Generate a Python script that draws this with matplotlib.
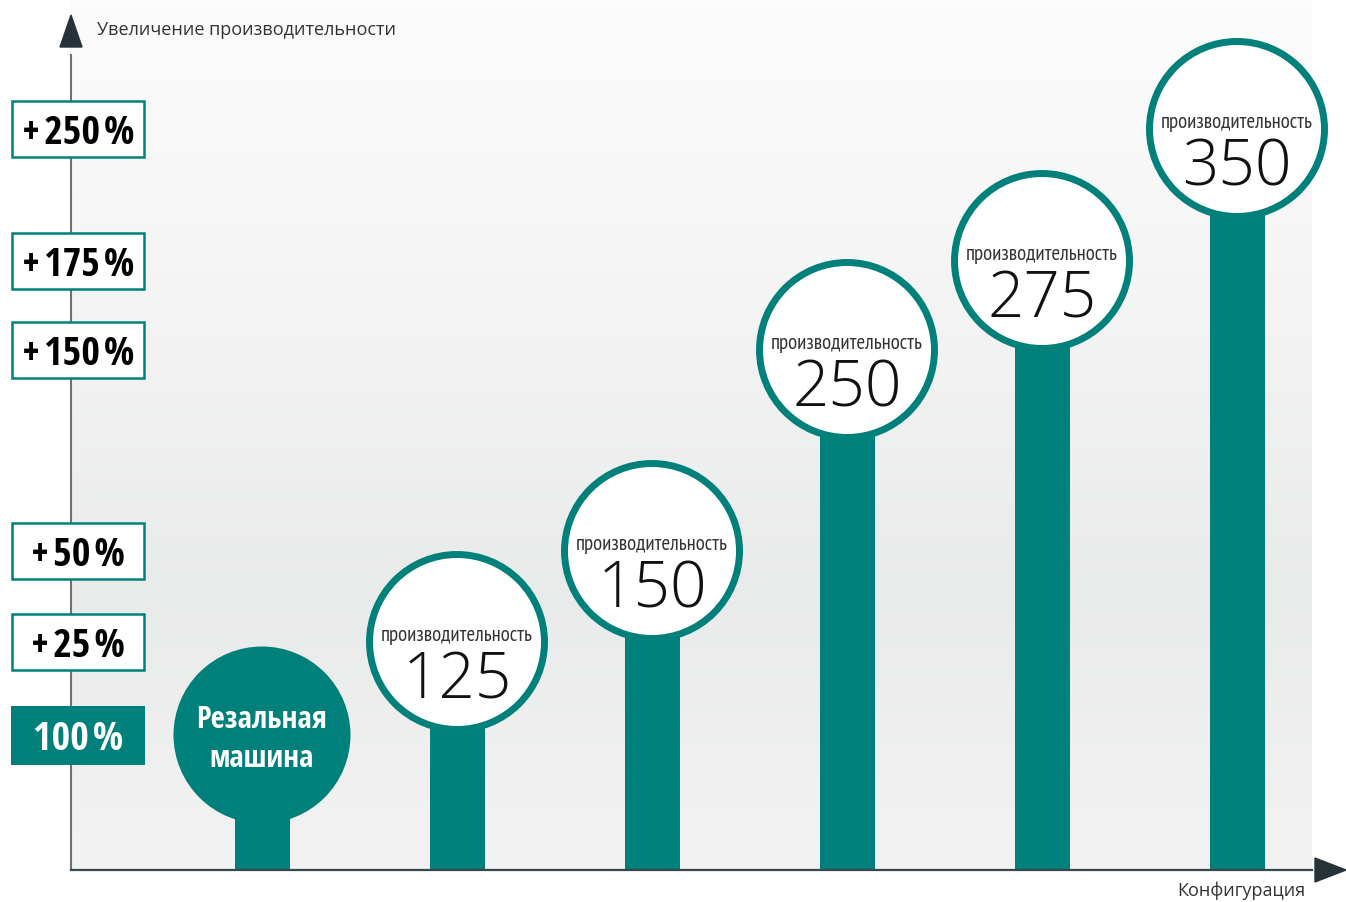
import matplotlib.pyplot as plt
import numpy as np
from matplotlib.patches import Circle, Rectangle, Polygon
from matplotlib.transforms import ScaledTranslation, blended_transform_factory
from matplotlib.colors import LinearSegmentedColormap

# data
configs = ['Резальная машина', '125', '150', '250', '275', '350']
values = [100, 125, 150, 250, 275, 350]
tick_labels = ['100\u200a%', '+\u200a25\u200a%', '+\u200a50\u200a%',
               '+\u200a150\u200a%', '+\u200a175\u200a%', '+\u200a250\u200a%']
circle_caption = 'производительность'
base_label = 'Резальная\nмашина'
y_title = 'Увеличение производительности'
x_title = 'Конфигурация'

TEAL = '#00807a'
W, H = 1346, 902
HEAVY = ['Open Sans Condensed', 'PT Sans Narrow', 'DejaVu Sans']
NARROW = ['PT Sans Narrow', 'DejaVu Sans']
LIGHT = ['Open Sans', 'DejaVu Sans']
PLAIN = ['Open Sans', 'DejaVu Sans']

fig = plt.figure(figsize=(W / 100, H / 100), dpi=100)

# background panel, pixel coordinates
bg = fig.add_axes([0, 0, 1, 1], zorder=0)
bg.set_xlim(0, W)
bg.set_ylim(H, 0)
bg.axis('off')
cmap = LinearSegmentedColormap.from_list(
    'bg', [(0, '#fcfcfc'), (0.35, '#f4f4f4'), (0.68, '#e9eaea'), (1, '#f2f3f2')])
bg.imshow(np.linspace(0, 1, 256)[:, None], cmap=cmap, extent=(71, 1312, 870, 0),
          aspect='auto')

# main axes: value scale is stretched so each level sits where the poster puts it
ax = fig.add_axes([0, 0, 1, 1], zorder=1)
ax.patch.set_alpha(0)
scale_v = [-24, 0] + values + [424]
scale_p = [0, 32, 167, 260, 351, 552, 641, 773, 902]
ax.set_yscale('function', functions=(lambda v: np.interp(v, scale_v, scale_p),
                                     lambda p: np.interp(p, scale_p, scale_v)))
ax.axis('off')

x = np.arange(len(values))
ax.bar(x, values, width=55 / 195, color=TEAL, zorder=2)

# circles on top of the bars
for i, v in enumerate(values):
    tr = fig.dpi_scale_trans + ScaledTranslation(i, v, ax.transData)
    if i == 0:
        c = Circle((0, 0), 0.885, facecolor=TEAL, edgecolor='none', transform=tr, zorder=3)
    else:
        c = Circle((0, 0), 0.875, facecolor='white', edgecolor=TEAL, lw=5,
                   transform=tr, zorder=3)
    ax.add_artist(c)
    if i == 0:
        lines = base_label.split('\n')
        ax.annotate(lines[0], (i, v), xytext=(0, 5), textcoords='offset points',
                    ha='center', va='baseline', color='white', fontsize=22,
                    fontweight='bold', family=HEAVY, zorder=4)
        ax.annotate(lines[1], (i, v), xytext=(0, -23), textcoords='offset points',
                    ha='center', va='baseline', color='white', fontsize=22,
                    fontweight='bold', family=HEAVY, zorder=4)
    else:
        ax.annotate(circle_caption, (i, v), xytext=(0, 1), textcoords='offset points',
                    ha='center', va='baseline', color='#333333', fontsize=15,
                    family=NARROW, zorder=4)
        ax.annotate(configs[i], (i, v), xytext=(0, -41), textcoords='offset points',
                    ha='center', va='baseline', color='#111111', fontsize=46,
                    fontweight='light', family=LIGHT, zorder=4)

# level boxes on the left
blend = blended_transform_factory(ax.transAxes, ax.transData)
for i, (v, lab) in enumerate(zip(values, tick_labels)):
    tr = fig.dpi_scale_trans + ScaledTranslation(78 / W, v, blend)
    if i == 0:
        r = Rectangle((-0.67, -0.295), 1.34, 0.59, facecolor=TEAL, edgecolor='none',
                      transform=tr, zorder=3)
        tc = 'white'
    else:
        r = Rectangle((-0.6575, -0.2775), 1.315, 0.555, facecolor='white',
                      edgecolor=TEAL, lw=1.8, transform=tr, zorder=3)
        tc = 'black'
    ax.add_artist(r)
    ax.annotate(lab, (78 / W, v), xycoords=blend, xytext=(0, -11),
                textcoords='offset points', ha='center', va='baseline', color=tc,
                fontsize=29, fontweight='bold', family=HEAVY, zorder=4)

ax.set_xlim(-262 / 195, (W - 262) / 195)
ax.set_ylim(-24, 424)

# axis lines and arrow heads (pixel coordinates)
px = bg.transData
ax.plot([71, 71], [55, 870], color='#707070', lw=1.5, transform=px, zorder=1)
ax.plot([71, 1312], [870, 870], color='#37474f', lw=1.6, transform=px, zorder=5)
ax.add_artist(Polygon([(71, 15), (60, 47), (82, 47)], closed=True, color='#263238',
                      transform=px, zorder=5))
ax.add_artist(Polygon([(1346, 870), (1315, 858), (1315, 882)], closed=True,
                      color='#263238', transform=px, zorder=5))

ax.text(97 / W, (H - 30) / H, y_title, transform=ax.transAxes, ha='left', va='center',
        fontsize=13, color='#333333', family=PLAIN)
ax.text(1305 / W, (H - 891) / H, x_title, transform=ax.transAxes, ha='right',
        va='center', fontsize=13, color='#333333', family=PLAIN)

fig.savefig('out.png', dpi=100)
